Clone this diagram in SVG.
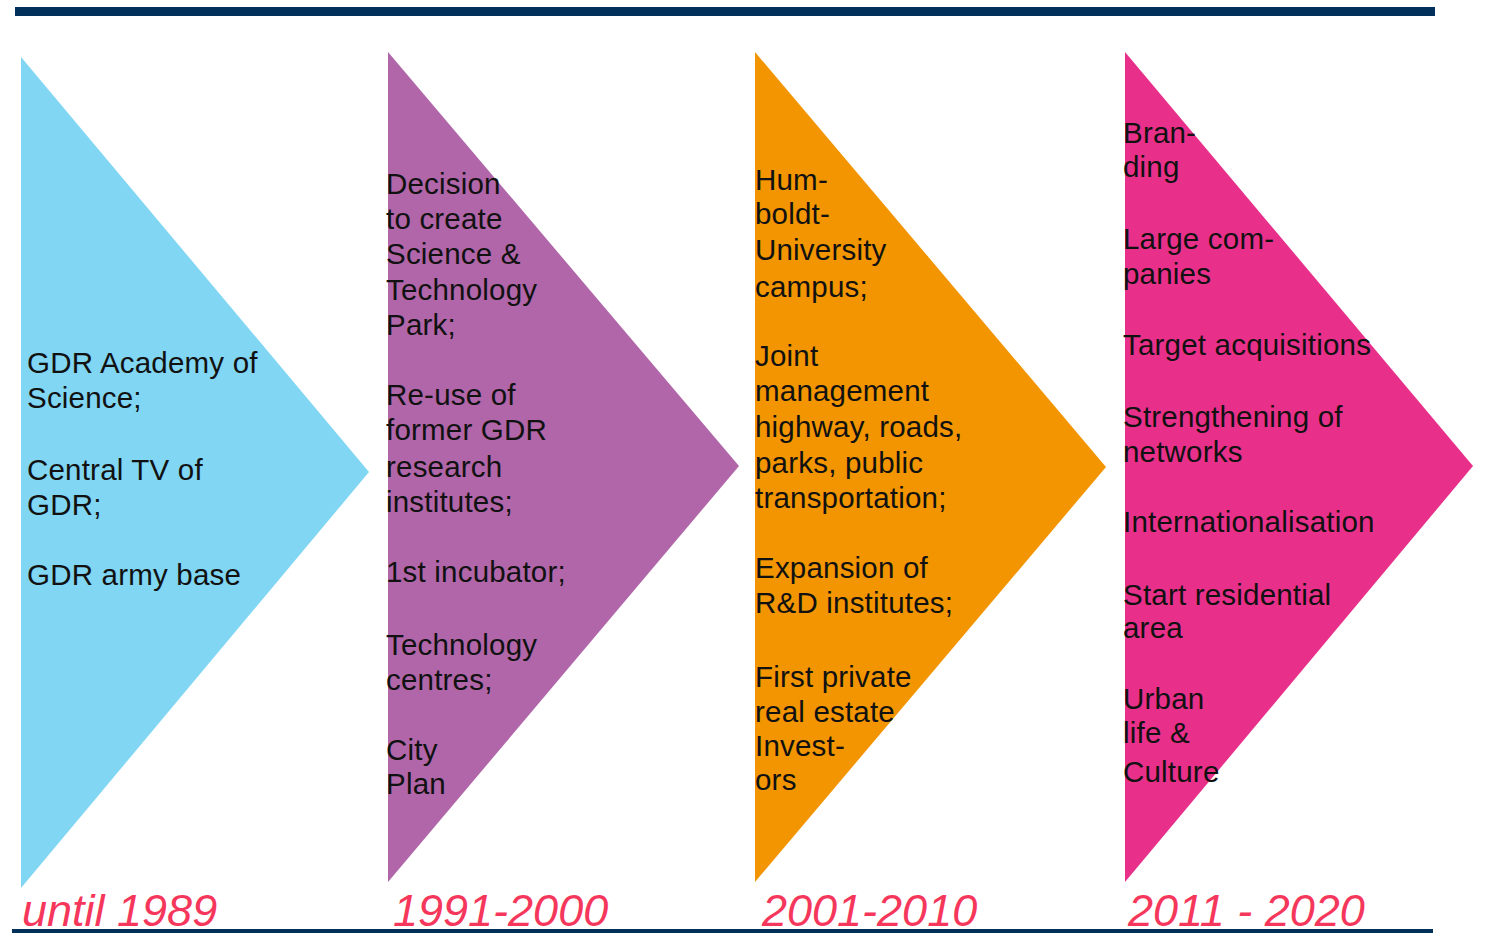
<svg xmlns="http://www.w3.org/2000/svg" width="1486" height="935" viewBox="0 0 1486 935">
<style>
.t{font-family:"Liberation Sans",Arial,sans-serif;font-size:29.5px;letter-spacing:0.2px;fill:#111111}
.y{font-family:"Liberation Sans",Arial,sans-serif;font-size:45px;font-style:italic;fill:#f6375c}
.rule{fill:#01305a}
</style>
<rect class="rule" x="15" y="7" width="1420" height="9"/>
<rect class="rule" x="12" y="929" width="1421" height="4"/>
<g id="phase1">
<polygon points="21,57 369,472 21,888" fill="#80d6f3"/>
<text class="t"><tspan x="27" y="373">GDR Academy of</tspan><tspan x="27" y="408">Science;</tspan><tspan x="27" y="480">Central TV of</tspan><tspan x="27" y="515">GDR;</tspan><tspan x="27" y="585">GDR army base</tspan></text>
<text class="y" x="22" y="926">until 1989</text>
</g>
<g id="phase2">
<polygon points="388,52 739,466 388,882" fill="#b066a8"/>
<text class="t"><tspan x="386" y="194">Decision</tspan><tspan x="386" y="229">to create</tspan><tspan x="386" y="264">Science &amp;</tspan><tspan x="386" y="300">Technology</tspan><tspan x="386" y="335">Park;</tspan><tspan x="386" y="405">Re-use of</tspan><tspan x="386" y="440">former GDR</tspan><tspan x="386" y="477">research</tspan><tspan x="386" y="512">institutes;</tspan><tspan x="386" y="582">1st incubator;</tspan><tspan x="386" y="655">Technology</tspan><tspan x="386" y="690">centres;</tspan><tspan x="386" y="760">City</tspan><tspan x="386" y="794">Plan</tspan></text>
<text class="y" x="393" y="926">1991-2000</text>
</g>
<g id="phase3">
<polygon points="755,52 1106,467 755,882" fill="#f29500"/>
<text class="t"><tspan x="755" y="190">Hum-</tspan><tspan x="755" y="224">boldt-</tspan><tspan x="755" y="260">University</tspan><tspan x="755" y="297">campus;</tspan><tspan x="755" y="366">Joint</tspan><tspan x="755" y="401">management</tspan><tspan x="755" y="437">highway, roads,</tspan><tspan x="755" y="473">parks, public</tspan><tspan x="755" y="508">transportation;</tspan><tspan x="755" y="578">Expansion of</tspan><tspan x="755" y="613">R&amp;D institutes;</tspan><tspan x="755" y="687">First private</tspan><tspan x="755" y="722">real estate</tspan><tspan x="755" y="756">Invest-</tspan><tspan x="755" y="790">ors</tspan></text>
<text class="y" x="762" y="926">2001-2010</text>
</g>
<g id="phase4">
<polygon points="1125,52 1473,466 1125,882" fill="#e8308a"/>
<text class="t"><tspan x="1123" y="143">Bran-</tspan><tspan x="1123" y="177">ding</tspan><tspan x="1123" y="249">Large com-</tspan><tspan x="1123" y="284">panies</tspan><tspan x="1123" y="355">Target acquisitions</tspan><tspan x="1123" y="427">Strengthening of</tspan><tspan x="1123" y="462">networks</tspan><tspan x="1123" y="532">Internationalisation</tspan><tspan x="1123" y="605">Start residential</tspan><tspan x="1123" y="638">area</tspan><tspan x="1123" y="709">Urban</tspan><tspan x="1123" y="743">life &amp;</tspan><tspan x="1123" y="782">Culture</tspan></text>
<text class="y" x="1128" y="926">2011 - 2020</text>
</g>
<g id="connectors"/>
</svg>
